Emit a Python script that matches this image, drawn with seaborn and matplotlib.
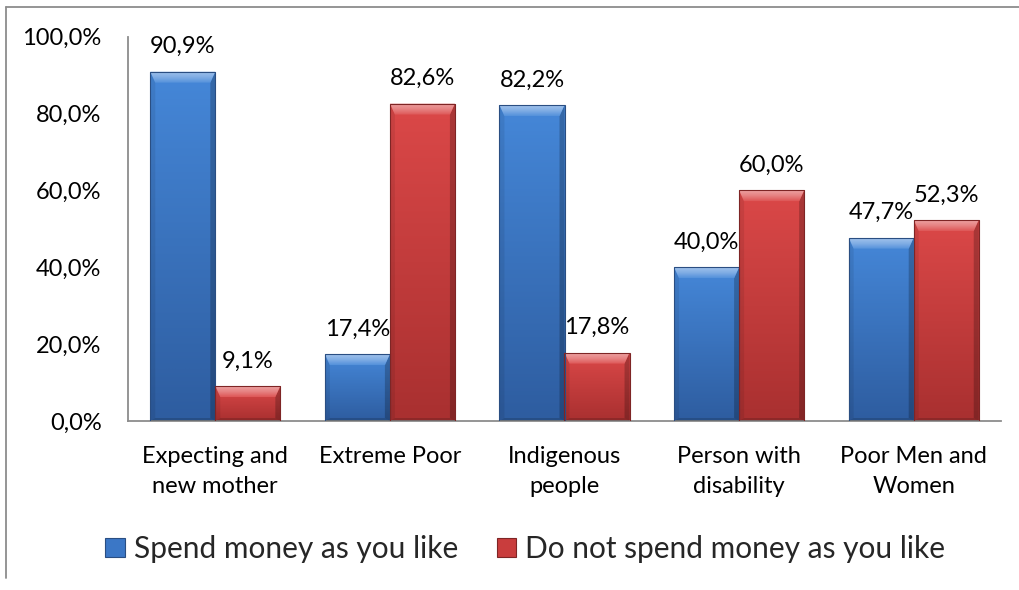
import numpy as np
import pandas as pd
import matplotlib
matplotlib.use("Agg")
import matplotlib.pyplot as plt
import seaborn as sns
from matplotlib.colors import LinearSegmentedColormap, to_rgb
from matplotlib.patches import Polygon, Patch
from matplotlib.lines import Line2D
from matplotlib.ticker import FuncFormatter

# ---- data ----
categories = ["Expecting and\nnew mother", "Extreme Poor", "Indigenous\npeople",
              "Person with\ndisability", "Poor Men and\nWomen"]
series = ["Spend money as you like", "Do not spend money as you like"]
spend = [90.9, 17.4, 82.2, 40.0, 47.7]
not_spend = [9.1, 82.6, 17.8, 60.0, 52.3]
y_ticks = [0, 20, 40, 60, 80, 100]

# ---- styling ----
base_col = ["#3B77C6", "#C93D3D"]
face_top = ["#4587D8", "#DB4848"]
face_bottom = ["#2E5DA0", "#A93030"]
edge_col = ["#2A4E82", "#7E2525"]
axis_grey = "#8C8C8C"

df = pd.DataFrame({
    "category": categories * 2,
    "series": [series[0]] * len(categories) + [series[1]] * len(categories),
    "value": spend + not_spend,
})

sns.set_theme(style="white")
plt.rcParams["font.family"] = ["Lato", "DejaVu Sans"]

W, H = 1020, 590
fig = plt.figure(figsize=(W / 100, H / 100), dpi=100)
ax = fig.add_axes([128 / W, 169 / H, 873 / W, 384.3 / H])

sns.barplot(data=df, x="category", y="value", hue="series", order=categories,
            hue_order=series, palette=base_col, width=0.745, gap=0,
            saturation=1, errorbar=None, legend=False, ax=ax)

ax.set_xlim(-0.5, len(categories) - 0.5)
ax.set_ylim(0, 100)

# pixel -> data conversions for the bevel geometry
dx = (ax.get_xlim()[1] - ax.get_xlim()[0]) / ax.bbox.width
dy = (ax.get_ylim()[1] - ax.get_ylim()[0]) / ax.bbox.height


def shade(c, f):
    r, g, b = to_rgb(c)
    if f >= 0:
        return (r + (1 - r) * f, g + (1 - g) * f, b + (1 - b) * f)
    return (r * (1 + f), g * (1 + f), b * (1 + f))


grad = np.linspace(0, 1, 64).reshape(-1, 1)
for si, cont in enumerate(ax.containers):
    cmap = LinearSegmentedColormap.from_list("g", [face_bottom[si], face_top[si]])
    top_cmap = LinearSegmentedColormap.from_list(
        "t", [shade(face_top[si], 0.08), shade(face_top[si], 0.32),
              shade(face_top[si], 0.5)])
    for p in cont:
        x0, w, h = p.get_x(), p.get_width(), p.get_height()
        im = ax.imshow(grad, extent=(x0, x0 + w, 0, h), origin="lower",
                       aspect="auto", cmap=cmap, interpolation="bilinear", zorder=2)
        im.set_clip_path(p)
        p.set_facecolor("none")
        p.set_edgecolor(edge_col[si])
        p.set_linewidth(0.8)
        p.set_zorder(5)

        s = 5 * dx
        b = min(11 * dy, h * 0.45)
        sb = min(3 * dy, h * 0.15)
        # side and bottom bevels
        ax.add_patch(Polygon([(x0, 0), (x0, h), (x0 + s, h - b), (x0 + s, sb)],
                             closed=True, facecolor="black", alpha=0.08,
                             edgecolor="none", zorder=3))
        ax.add_patch(Polygon([(x0 + w, 0), (x0 + w, h), (x0 + w - s, h - b), (x0 + w - s, sb)],
                             closed=True, facecolor="black", alpha=0.22,
                             edgecolor="none", zorder=3))
        ax.add_patch(Polygon([(x0, 0), (x0 + w, 0), (x0 + w - s, sb), (x0 + s, sb)],
                             closed=True, facecolor="black", alpha=0.16,
                             edgecolor="none", zorder=3))
        # top bevel with its own vertical gradient
        top = Polygon([(x0, h), (x0 + w, h), (x0 + w - s, h - b), (x0 + s, h - b)],
                      closed=True, facecolor="none", edgecolor="none", zorder=4)
        ax.add_patch(top)
        tim = ax.imshow(grad, extent=(x0, x0 + w, h - b, h), origin="lower",
                        aspect="auto", cmap=top_cmap, interpolation="bilinear", zorder=4)
        tim.set_clip_path(top)
        # value label
        ax.annotate(f"{h:.1f}%".replace(".", ","), xy=(x0 + w / 2, h),
                    xytext=(0, 18), textcoords="offset points",
                    ha="center", va="center", fontsize=17, color="black")

ax.set_xlim(-0.5, len(categories) - 0.5)
ax.set_ylim(0, 100)

ax.set_yticks(y_ticks)
ax.yaxis.set_major_formatter(FuncFormatter(lambda v, _: f"{v:.1f}%".replace(".", ",")))
ax.tick_params(axis="both", length=0, labelsize=17, colors="black")
ax.tick_params(axis="y", pad=19)
ax.tick_params(axis="x", pad=18)
for lab in ax.get_xticklabels():
    lab.set_linespacing(1.55)
ax.set_xlabel("")
ax.set_ylabel("")

for side in ["top", "right"]:
    ax.spines[side].set_visible(False)
for side in ["left", "bottom"]:
    ax.spines[side].set_color(axis_grey)
    ax.spines[side].set_linewidth(1.3)

handles = [Patch(facecolor=base_col[i], edgecolor=edge_col[i], linewidth=0.8)
           for i in range(len(series))]
fig.legend(handles, series, loc="center", bbox_to_anchor=(0.515, 1 - 549 / H),
           ncol=2, frameon=False, fontsize=21.5, handlelength=0.65, handleheight=0.65,
           handletextpad=0.3, columnspacing=1.3)

# outer chart frame
fig.add_artist(Line2D([6 / W, 1], [1 - 7 / H, 1 - 7 / H], transform=fig.transFigure,
                      color=axis_grey, lw=1.3))
fig.add_artist(Line2D([6 / W, 6 / W], [1 - 7 / H, 12 / H], transform=fig.transFigure,
                      color=axis_grey, lw=1.3))

fig.savefig("out.png", dpi=100)
